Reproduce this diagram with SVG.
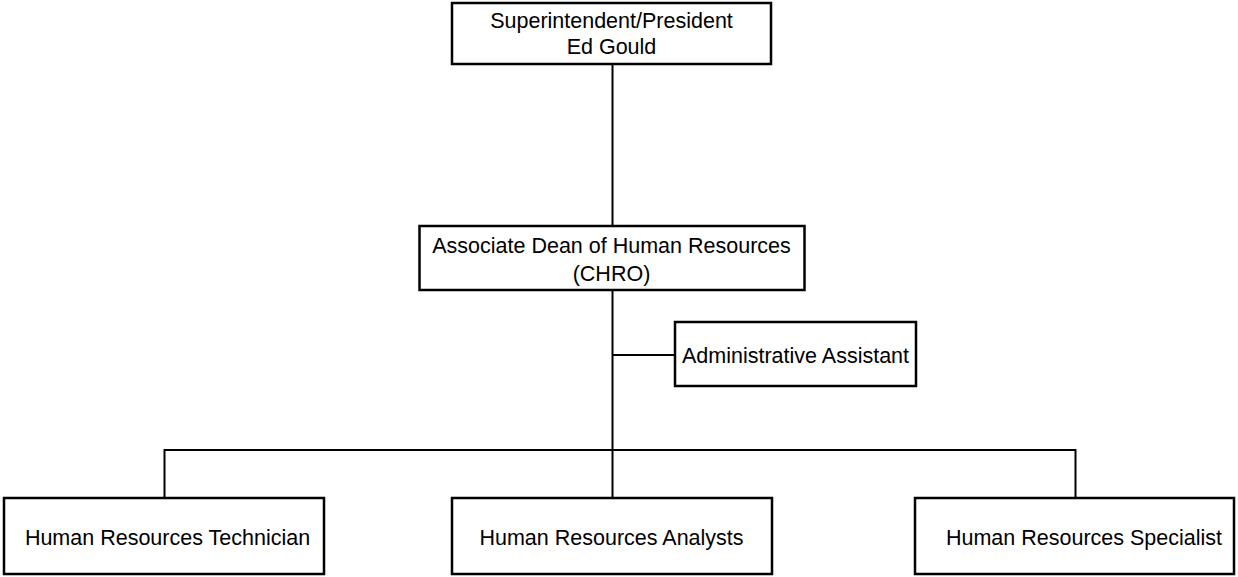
<svg xmlns="http://www.w3.org/2000/svg" width="1238" height="577" viewBox="0 0 1238 577">
<style>
.box{fill:#fff;stroke:#000;stroke-width:2.5}
.ln{stroke:#000;stroke-width:2;fill:none}
text{font-family:"Liberation Sans",Arial,sans-serif;font-size:21.5px;fill:#000;text-anchor:middle}
</style>
<rect width="1238" height="577" fill="#fff"/>
<g id="connectors">
<line class="ln" x1="612.5" y1="64" x2="612.5" y2="226"/>
<line class="ln" x1="612.5" y1="290" x2="612.5" y2="498"/>
<line class="ln" x1="612.5" y1="355" x2="675" y2="355"/>
<polyline class="ln" points="164.5,498 164.5,450 1075.5,450 1075.5,498"/>
</g>
<g id="president">
<rect class="box" x="452" y="3" width="319" height="61"/>
<text x="611.5" y="28">Superintendent/President</text>
<text x="611.5" y="54">Ed Gould</text>
</g>
<g id="chro">
<rect class="box" x="419.5" y="226" width="385" height="64"/>
<text x="611.5" y="253">Associate Dean of Human Resources</text>
<text x="611.5" y="281">(CHRO)</text>
</g>
<g id="admin">
<rect class="box" x="675" y="322" width="241" height="64"/>
<text x="795.5" y="363">Administrative Assistant</text>
</g>
<g id="technician">
<rect class="box" x="4" y="498" width="320" height="76"/>
<text x="167.5" y="545">Human Resources Technician</text>
</g>
<g id="analysts">
<rect class="box" x="452" y="498" width="320" height="76"/>
<text x="611.5" y="545">Human Resources Analysts</text>
</g>
<g id="specialist">
<rect class="box" x="915" y="498" width="319" height="76"/>
<text x="1084" y="545">Human Resources Specialist</text>
</g>
</svg>
